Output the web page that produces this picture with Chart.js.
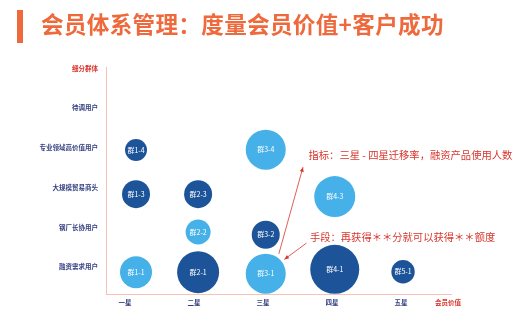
<!DOCTYPE html>
<html>
<head>
<meta charset="utf-8">
<script src="https://cdn.jsdelivr.net/npm/chart.js@4/dist/chart.umd.min.js"></script>
<style>
  html, body { margin: 0; padding: 0; background: #fff; }
  #wrap { position: relative; width: 527px; height: 328px; }
  #bar { position: absolute; left: 17px; top: 10px; width: 6px; height: 33px; background: #ee6a3c; }
  #title { position: absolute; left: 41px; top: 7px; font: bold 22.6px "Noto Sans CJK SC", sans-serif; color: #ee6a3c; white-space: nowrap; letter-spacing: 0.3px; }
  canvas { position: absolute; left: 0; top: 0; }
</style>
</head>
<body>
<div id="wrap">
  <canvas id="chart" width="527" height="328"></canvas>
  <div id="bar"></div>
  <div id="title">会员体系管理：度量会员价值+客户成功</div>
</div>
<script>
// axis categories
const xTicks = [1, 2, 3, 4, 5, 5.68];
const xLabels = ['一星', '二星', '三星', '四星', '五星', '会员价值'];
const yTicks = [0, 1, 2, 3, 4, 5];
const yLabels = ['融资需求用户', '钢厂长协用户', '大规模贸易商头', '专业领域高价值用户', '待调用户', '细分群体'];

// groups (bubbles)
const groupNames = ['群1-1', '群1-3', '群1-4', '群2-1', '群2-2', '群2-3', '群3-1', '群3-2', '群3-4', '群4-1', '群4-3', '群5-1'];
const groupX = [1.16, 1.16, 1.16, 2.06, 2.06, 2.06, 3.04, 3.04, 3.04, 4.04, 4.04, 5.03];
const groupY = [-0.13, 1.83, 2.94, -0.13, 0.88, 1.83, -0.17, 0.81, 2.95, -0.06, 1.77, -0.12];
const groupSize = [16, 14, 11, 21, 12.5, 14, 20, 14, 20, 24.5, 20.5, 11.7];
const lightGroups = ['群1-1', '群2-2', '群3-1', '群3-4', '群4-3'];

const DARK = '#1d5499';
const LIGHT = '#46b0e8';
const AXIS = '#f5c3b6';
const NAVY = '#343f80';
const RED = '#d8352d';

const points = groupNames.map((n, i) => ({ x: groupX[i], y: groupY[i], r: groupSize[i] }));
const colors = groupNames.map(n => lightGroups.includes(n) ? LIGHT : DARK);

function arrow(ctx, x1, y1, x2, y2) {
  ctx.beginPath();
  ctx.moveTo(x1, y1);
  ctx.lineTo(x2, y2);
  ctx.stroke();
  const a = Math.atan2(y2 - y1, x2 - x1);
  const len = 5;
  ctx.beginPath();
  ctx.moveTo(x2, y2);
  ctx.lineTo(x2 - len * Math.cos(a - 0.4), y2 - len * Math.sin(a - 0.4));
  ctx.lineTo(x2 - len * Math.cos(a + 0.4), y2 - len * Math.sin(a + 0.4));
  ctx.closePath();
  ctx.fill();
}

const labelPlugin = {
  id: 'labels',
  afterDatasetsDraw(chart) {
    const ctx = chart.ctx;
    const xs = chart.scales.x, ys = chart.scales.y;
    ctx.save();
    // bubble names
    ctx.fillStyle = '#ffffff';
    ctx.font = '7px "Noto Sans CJK SC", sans-serif';
    ctx.textAlign = 'center';
    ctx.textBaseline = 'middle';
    chart.getDatasetMeta(0).data.forEach((el, i) => {
      ctx.fillText(groupNames[i], el.x, el.y);
    });
    // annotations
    ctx.strokeStyle = RED;
    ctx.fillStyle = RED;
    ctx.lineWidth = 0.8;
    arrow(ctx, xs.getPixelForValue(3.23), ys.getPixelForValue(0.33), xs.getPixelForValue(3.58), ys.getPixelForValue(2.51));
    arrow(ctx, xs.getPixelForValue(3.63), ys.getPixelForValue(0.6), xs.getPixelForValue(3.31), ys.getPixelForValue(0.19));
    ctx.font = '10.3px "Noto Sans CJK SC", sans-serif';
    ctx.textAlign = 'left';
    ctx.fillText('指标：三星 - 四星迁移率，融资产品使用人数', xs.getPixelForValue(3.66), ys.getPixelForValue(2.81));
    ctx.fillText('手段：再获得＊＊分就可以获得＊＊额度', xs.getPixelForValue(3.68), ys.getPixelForValue(0.75));
    ctx.restore();
  }
};

new Chart(document.getElementById('chart'), {
  type: 'bubble',
  data: {
    datasets: [{
      data: points,
      backgroundColor: colors,
      borderWidth: 0,
      clip: false
    }]
  },
  options: {
    responsive: false,
    animation: false,
    layout: { padding: { left: 0, top: 67, right: 76, bottom: 0 } },
    plugins: { legend: { display: false }, tooltip: { enabled: false } },
    scales: {
      x: {
        type: 'linear',
        min: 0.725,
        max: 5.725,
        afterBuildTicks: s => { s.ticks = xTicks.map(v => ({ value: v })); },
        afterFit: s => { s.height = 34; },
        grid: { display: false, drawTicks: false },
        border: { color: AXIS, width: 1 },
        ticks: {
          padding: 5,
          maxRotation: 0,
          autoSkip: false,
          font: { family: 'Noto Sans CJK SC', size: 6.5, weight: 'bold' },
          color: c => c.index === xTicks.length - 1 ? RED : NAVY,
          callback: (v, i) => xLabels[i]
        }
      },
      y: {
        type: 'linear',
        min: -0.68,
        max: 5.03,
        afterBuildTicks: s => { s.ticks = yTicks.map(v => ({ value: v })); },
        afterFit: s => { s.width = 106; },
        grid: { display: false, drawTicks: false },
        border: { color: AXIS, width: 1 },
        ticks: {
          padding: 8,
          autoSkip: false,
          font: { family: 'Noto Sans CJK SC', size: 6.5, weight: 'bold' },
          color: c => c.index === yTicks.length - 1 ? RED : NAVY,
          callback: (v, i) => yLabels[i]
        }
      }
    }
  },
  plugins: [labelPlugin]
});
</script>
</body>
</html>
